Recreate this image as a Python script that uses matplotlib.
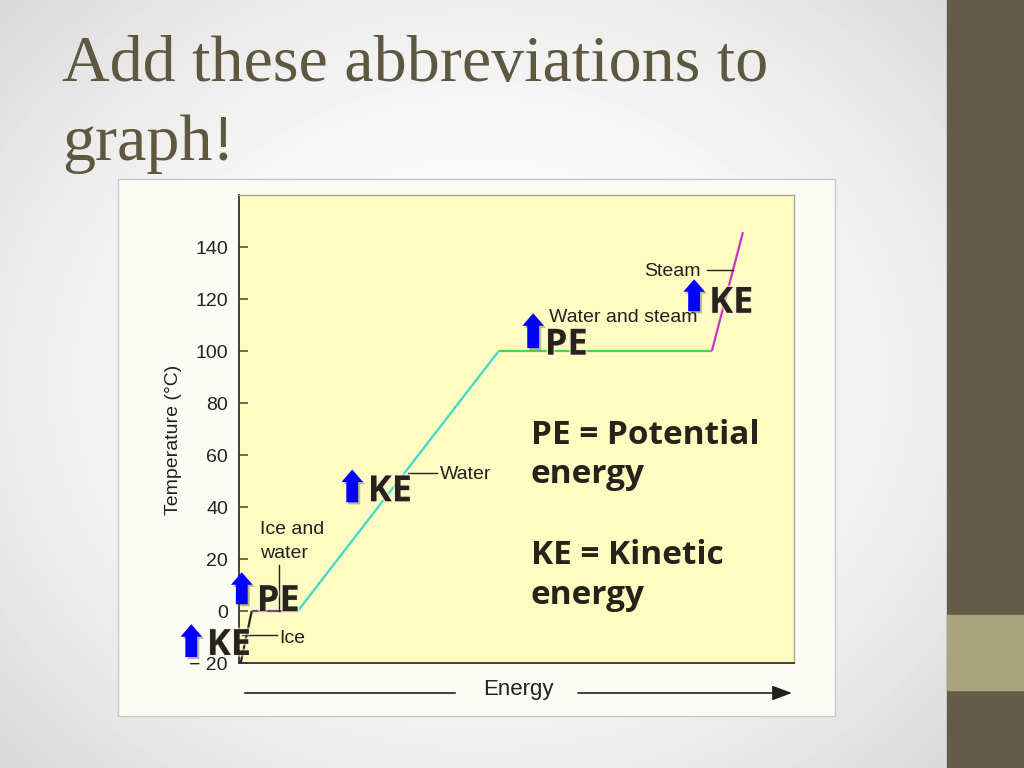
import numpy as np
import matplotlib
matplotlib.use('Agg')
from matplotlib import pyplot as plt
from matplotlib.patches import Rectangle
from matplotlib import patheffects as pe

# heating curve of water (energy in arbitrary units)
energy = [0.3, 2.3, 10.6, 46.8, 85.2, 90.8]
temperature = [-20, 0, 0, 100, 100, 145.7]
segment_colors = ['#222222', '#7b3f9e', '#3dd9cf', '#3fdc3f', '#c935c9']

yticks = [-20, 0, 20, 40, 60, 80, 100, 120, 140]
ytick_labels = ['\u2212 20', '0', '20', '40', '60', '80', '100', '120', '140']

# phase labels: text, x, baseline y
phase_labels = [('Steam', 83.1, 128.7, 'right'),
                ('Water and steam', 55.9, 111.2, 'left'),
                ('Water', 36.2, 50.8, 'left'),
                ('Ice and', 3.8, 29.5, 'left'),
                ('water', 3.8, 20.3, 'left'),
                ('Ice', 7.2, -12.3, 'left')]
# leader lines: (x0, x1), (y0, y1)
leaders = [((84.3, 89.0), (131.2, 131.2)),
           ((30.5, 35.7), (52.9, 52.9)),
           ((7.2, 7.2), (17.6, 0.0)),
           ((0.5, 6.8), (-9.3, -9.3))]

# abbreviations added on top: text, arrow x, arrow bottom, arrow top, text x, text baseline
marks = [('KE', -8.6, -17.7, -5.1, -5.8, -16.9),
         ('PE', 0.5, 2.6, 14.9, 3.2, 0.0),
         ('KE', 20.4, 41.8, 54.4, 23.2, 42.2),
         ('PE', 53.0, 101.1, 114.5, 55.1, 98.6),
         ('KE', 82.0, 115.3, 127.6, 84.7, 114.7)]

definitions = [('PE = Potential', 64.4), ('energy', 49.1),
               ('KE = Kinetic', 18.0), ('energy', 2.6)]

W, H = 1024, 768
fig = plt.figure(figsize=(W / 100, H / 100), dpi=100)

# slide background
bg = fig.add_axes([0, 0, 1, 1], zorder=0)
yy, xx = np.mgrid[0:H, 0:W]
d = np.sqrt(((xx - 480) / 560.0) ** 2 + ((yy - 380) / 480.0) ** 2)
shade = 1 - 0.11 * np.clip(d, 0, 1.3) ** 2
bg.imshow(shade, cmap='gray', vmin=0, vmax=1, extent=(0, W, H, 0), aspect='auto')
bg.add_patch(Rectangle((947, 0), W - 947, H, color='#645c46'))
bg.add_patch(Rectangle((947, 615), W - 947, 75, color='#a9a47d'))
bg.add_patch(Rectangle((118, 179), 717, 537, fc='#fbfcf6', ec='#c9c9c4', lw=1))
bg.set_xlim(0, W)
bg.set_ylim(H, 0)
bg.axis('off')

fig.text(62 / W, 1 - 81 / H, 'Add these abbreviations to', fontsize=47.5,
         family='Liberation Serif', color='#5f5840', va='baseline')
fig.text(62 / W, 1 - 160 / H, 'graph!', fontsize=47.5,
         family='Liberation Serif', color='#5f5840', va='baseline')

# chart
ax = fig.add_axes([239 / W, 1 - 663 / H, 555 / W, 468 / H], zorder=2)
ax.set_facecolor('#fefcc0')
ax.set_xlim(0, 100)
ax.set_ylim(-20, 160)
for i in range(len(segment_colors)):
    ax.plot(energy[i:i + 2], temperature[i:i + 2], color=segment_colors[i], lw=1.6,
            solid_capstyle='butt', zorder=3)

ax.set_xticks([])
ax.set_yticks(yticks)
ax.set_yticklabels(ytick_labels, family='Liberation Sans', fontsize=14, color='#222222')
ax.tick_params(axis='y', direction='in', length=6.5, width=1.1, color='#444444', pad=8)
for side in ['left', 'bottom']:
    ax.spines[side].set_color('#333333')
    ax.spines[side].set_linewidth(1.3)
for side in ['top', 'right']:
    ax.spines[side].set_color('#a8a890')
    ax.spines[side].set_linewidth(1.0)

for txt, x, y, ha in phase_labels:
    ax.text(x, y, txt, family='Liberation Sans', fontsize=14, color='#222222',
            ha=ha, va='baseline', zorder=4)
for xs, ys in leaders:
    ax.plot(xs, ys, color='#222222', lw=1.0, zorder=4)

shadow = [pe.withSimplePatchShadow(offset=(1.5, -1.5), shadow_rgbFace='#666655', alpha=0.45)]
glow = [pe.withStroke(linewidth=2.5, foreground='#f4f2d8', alpha=0.6)]
for txt, ax_x, y0, y1, tx, ty in marks:
    ax.annotate('', xy=(ax_x, y1), xytext=(ax_x, y0), annotation_clip=False,
                arrowprops=dict(arrowstyle='simple,head_length=0.9,head_width=1.55,tail_width=0.85',
                                fc='#0000ff', ec='none', shrinkA=0, shrinkB=0,
                                path_effects=shadow), zorder=5)
    ax.text(tx, ty, txt, family='Open Sans', fontweight='bold', fontsize=26,
            color='#26241a', va='baseline', ha='left', clip_on=False, zorder=6,
            path_effects=glow)

for txt, y in definitions:
    ax.text(52.6, y, txt, family='Open Sans', fontweight='bold', fontsize=24,
            color='#26241a', va='baseline', ha='left', zorder=6)

fig.text(173 / W, 1 - 440 / H, 'Temperature (\u00b0C)', rotation=90, family='Liberation Sans',
         fontsize=14, color='#222222', ha='center', va='center', zorder=3)
fig.text(518 / W, 1 - 689 / H, 'Energy', family='Liberation Sans', fontsize=16,
         color='#222222', ha='center', va='center', zorder=3)

bg.plot([245, 455], [693, 693], color='#222222', lw=1.2)
bg.annotate('', xy=(792, 693), xytext=(578, 693),
            arrowprops=dict(arrowstyle='-|>,head_length=1.2,head_width=0.45', color='#222222',
                            lw=1.2, shrinkA=0, shrinkB=0))

plt.savefig('out.png', dpi=100)
